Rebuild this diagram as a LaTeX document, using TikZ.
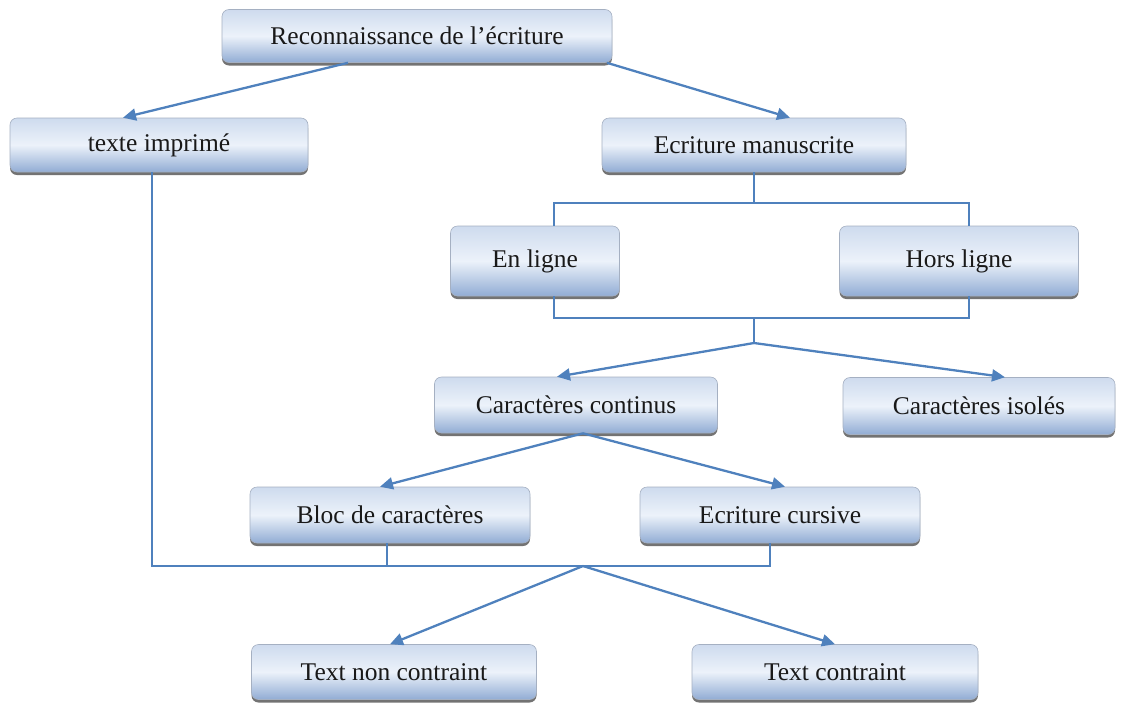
\documentclass[tikz,border=0pt]{standalone}
\usepackage{fontspec}
\setmainfont{Liberation Serif}
\usetikzlibrary{arrows.meta,calc}
\definecolor{linkblue}{RGB}{79,129,189}
\definecolor{boxtop}{RGB}{206,219,238}
\definecolor{boxmid}{RGB}{236,242,250}
\definecolor{boxbot}{RGB}{145,172,212}
\definecolor{boxrim}{RGB}{165,176,194}
\tikzset{
  x=1pt, y=-1pt,
  box/.style={rounded corners=7pt, draw=boxrim, line width=0.6pt,
    top color=boxtop, bottom color=boxbot, middle color=boxmid,
    inner sep=0pt, font=\fontsize{25.5}{29}\selectfont, text=black!90,
    preaction={fill=black!55, rounded corners=7pt, transform canvas={yshift=-3pt}}},
  link/.style={draw=linkblue, line width=2.3pt},
  arr/.style={link, -{Triangle[length=13pt,width=12pt]}}
}
\begin{document}
\begin{tikzpicture}
\useasboundingbox (0,0) rectangle (1129,702);
% boxes
\node[box, minimum width=390pt, minimum height=53pt] (rec) at (417,36) {Reconnaissance de l’écriture};
\node[box, minimum width=298pt, minimum height=54pt] (ti) at (159,145) {texte imprimé};
\node[box, minimum width=304pt, minimum height=54pt] (em) at (754,145) {Ecriture manuscrite};
\node[box, minimum width=169pt, minimum height=70pt] (el) at (535,261) {En ligne};
\node[box, minimum width=239pt, minimum height=70pt] (hl) at (959,261) {Hors ligne};
\node[box, minimum width=283pt, minimum height=56pt] (cc) at (576,405) {Caractères continus};
\node[box, minimum width=272pt, minimum height=57pt] (ci) at (979,406) {Caractères isolés};
\node[box, minimum width=280pt, minimum height=56pt] (bc) at (390,515) {Bloc de caractères};
\node[box, minimum width=280pt, minimum height=56pt] (ec) at (780,515) {Ecriture cursive};
\node[box, minimum width=285pt, minimum height=55pt] (tnc) at (394,672) {Text non contraint};
\node[box, minimum width=286pt, minimum height=55pt] (tc) at (835,672) {Text contraint};
% junction points
\coordinate (j1) at (754,203);
\coordinate (j2) at (754,318);
\coordinate (j3) at (754,343);
\coordinate (j4) at (583,566);
% top split
\draw[arr] ([xshift=-69pt]rec.south) -- ([xshift=-36pt]ti.north);
\draw[arr] ([xshift=190pt]rec.south) -- ([xshift=36pt]em.north);
% on-line / off-line bracket
\draw[link] (em.south) -- (j1);
\draw[link] ([xshift=19pt]el.north) |- (j1) -| ([xshift=10pt]hl.north);
\draw[link] ([xshift=19pt]el.south) |- (j2) -| ([xshift=10pt]hl.south);
\draw[link] (j2) -- (j3);
\draw[arr] (j3) -- ([xshift=-19pt]cc.north);
\draw[arr] (j3) -- ([xshift=26pt]ci.north);
% continuous characters
\draw[arr] ([xshift=7pt]cc.south) -- ([xshift=-10pt]bc.north);
\draw[arr] ([xshift=7pt]cc.south) -- ([xshift=5pt]ec.north);
% bottom merge
\draw[link] ([xshift=-7pt]ti.south) |- (j4);
\draw[link] ([xshift=-3pt]bc.south) -- ([xshift=-3pt]bc.south |- j4);
\draw[link] ([xshift=-10pt]ec.south) |- (j4);
\draw[arr] (j4) -- ([xshift=-4pt]tnc.north);
\draw[arr] (j4) -- (tc.north);
\end{tikzpicture}
\end{document}
